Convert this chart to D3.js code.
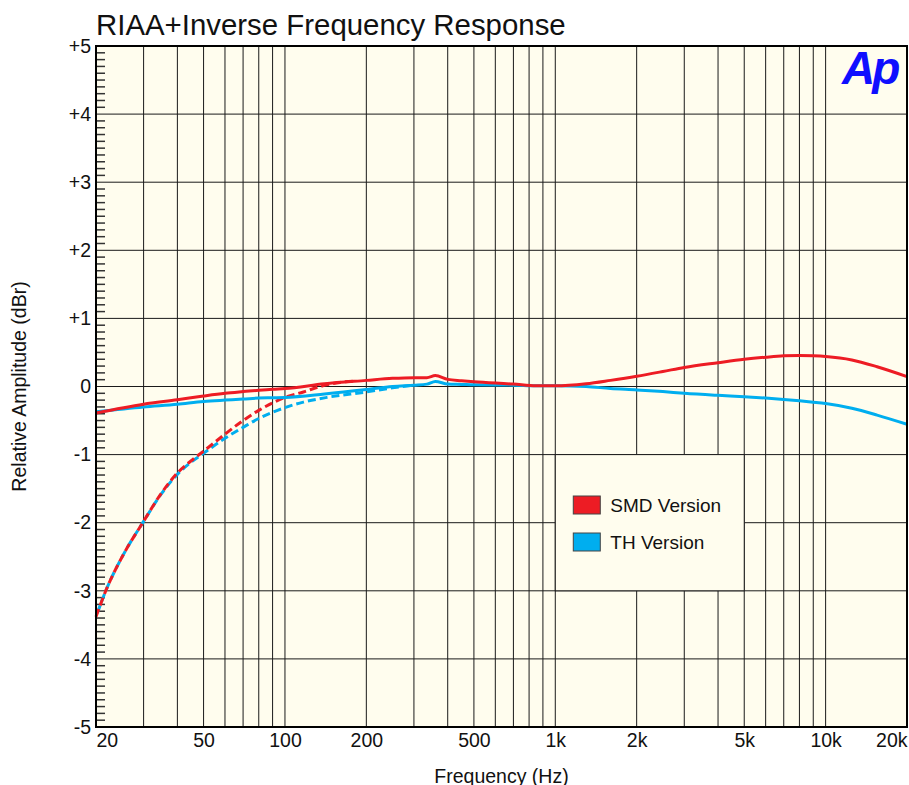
<!DOCTYPE html>
<html>
<head>
<meta charset="utf-8">
<script src="https://cdn.jsdelivr.net/npm/d3@7"></script>
<style>
  body { margin: 0; background: #fff; }
  text { font-family: "Liberation Sans", Arial, sans-serif; fill: #111; }
</style>
</head>
<body>
<div id="container"></div>
<script>
// frequencies (Hz) for the two full response curves
const freqs = [20, 30, 40, 50, 60, 70, 80, 90, 100, 140, 200, 250, 300, 335, 360, 400, 450, 500, 700, 850,
  1000, 1300, 1600, 2000, 2500, 3000, 4000, 5000, 6000, 7000, 8000, 9000, 10000, 12500, 15500, 20000];
const smdSolid = [-0.39, -0.26, -0.195, -0.14, -0.10, -0.075, -0.055, -0.04, -0.03, 0.04, 0.09, 0.12, 0.13, 0.13, 0.16, 0.105, 0.085, 0.07, 0.035, 0.01,
  0.01, 0.04, 0.09, 0.15, 0.22, 0.28, 0.35, 0.40, 0.43, 0.45, 0.455, 0.45, 0.44, 0.39, 0.29, 0.145];
const thSolid = [-0.37, -0.30, -0.26, -0.22, -0.20, -0.185, -0.17, -0.165, -0.16, -0.11, -0.045, 0.0, 0.02, 0.035, 0.075, 0.035, 0.03, 0.025, 0.02, 0.01,
  0.01, 0.0, -0.03, -0.05, -0.075, -0.10, -0.13, -0.15, -0.17, -0.19, -0.21, -0.23, -0.25, -0.32, -0.42, -0.555];

// low frequency roll-off curves (dashed)
const smdDashFreqs = [20, 22, 25, 30, 35, 40, 45, 50, 60, 70, 80, 90, 100, 117, 135, 160, 180];
const smdDashed = [-3.38, -2.95, -2.5, -1.98, -1.56, -1.27, -1.09, -0.95, -0.70, -0.50, -0.35, -0.24, -0.16, -0.08, 0.0, 0.06, 0.08];
const thDashFreqs = [20, 22, 25, 30, 35, 40, 45, 50, 60, 70, 80, 90, 100, 117, 143, 200, 250, 300];
const thDashed = [-3.38, -2.95, -2.5, -1.98, -1.57, -1.29, -1.11, -0.98, -0.76, -0.60, -0.47, -0.38, -0.31, -0.23, -0.16, -0.08, -0.02, 0.02];

const xTickValues = [20, 50, 100, 200, 500, 1000, 2000, 5000, 10000, 20000];
const xTickLabels = ["20", "50", "100", "200", "500", "1k", "2k", "5k", "10k", "20k"];
const yTickValues = [-5, -4, -3, -2, -1, 0, 1, 2, 3, 4, 5];
const yTickLabels = ["-5", "-4", "-3", "-2", "-1", "0", "+1", "+2", "+3", "+4", "+5"];

const seriesNames = ["SMD Version", "TH Version"];
const seriesColors = ["#ed1c24", "#00aeef"];

let w = 909;
let h = 785;
let plotLeft = 96, plotRight = 907, plotTop = 46, plotBottom = 727;

let viz = d3.select("#container")
  .append("svg")
    .attr("width", w)
    .attr("height", h);

let xScale = d3.scaleLog().domain([20, 20000]).range([plotLeft, plotRight]);
let yScale = d3.scaleLinear().domain([-5, 5]).range([plotBottom, plotTop]);

// plot background
viz.append("rect")
  .attr("x", plotLeft).attr("y", plotTop)
  .attr("width", plotRight - plotLeft).attr("height", plotBottom - plotTop)
  .attr("fill", "#fffdee");

// grid lines
let gridFreqs = [];
[10, 100, 1000, 10000].forEach(function(dec){
  for (let k = 1; k <= 9; k++) {
    let f = dec * k;
    if (f > 20 && f < 20000) gridFreqs.push(f);
  }
});
let grid = viz.append("g").attr("class", "grid");
grid.selectAll(".vline").data(gridFreqs).enter().append("line")
  .attr("x1", d => xScale(d)).attr("x2", d => xScale(d))
  .attr("y1", plotTop).attr("y2", plotBottom)
  .attr("stroke", "#1a1a1a").attr("stroke-width", 1);
grid.selectAll(".hline").data(yTickValues).enter().append("line")
  .attr("x1", plotLeft).attr("x2", plotRight)
  .attr("y1", d => yScale(d)).attr("y2", d => yScale(d))
  .attr("stroke", "#1a1a1a").attr("stroke-width", 1);

// minor ticks on the left edge, every 0.1 dB
let minor = d3.range(-50, 51).filter(d => d % 10 != 0).map(d => d / 10);
grid.selectAll(".minor").data(minor).enter().append("line")
  .attr("x1", plotLeft).attr("x2", plotLeft + 9)
  .attr("y1", d => yScale(d)).attr("y2", d => yScale(d))
  .attr("stroke", "#333").attr("stroke-width", 1.5);

// legend box sits on the grid between 1k-5k and -1..-3 dB
let lx0 = xScale(1000), lx1 = xScale(5000), ly0 = yScale(-1), ly1 = yScale(-3);
viz.append("rect")
  .attr("x", lx0).attr("y", ly0)
  .attr("width", lx1 - lx0).attr("height", ly1 - ly0)
  .attr("fill", "#fffdee").attr("stroke", "#1a1a1a").attr("stroke-width", 1);

// curves
let line = d3.line()
  .x(d => xScale(d[0]))
  .y(d => yScale(d[1]))
  .curve(d3.curveMonotoneX);

let curves = viz.append("g");
curves.append("path")
  .datum(d3.zip(thDashFreqs, thDashed))
  .attr("d", line).attr("fill", "none")
  .attr("stroke", seriesColors[1]).attr("stroke-width", 3)
  .attr("stroke-dasharray", "8,4").attr("stroke-dashoffset", 8);
curves.append("path")
  .datum(d3.zip(smdDashFreqs, smdDashed))
  .attr("d", line).attr("fill", "none")
  .attr("stroke", seriesColors[0]).attr("stroke-width", 3)
  .attr("stroke-dasharray", "8,4");
curves.append("path")
  .datum(d3.zip(freqs, thSolid))
  .attr("d", line).attr("fill", "none")
  .attr("stroke", seriesColors[1]).attr("stroke-width", 3);
curves.append("path")
  .datum(d3.zip(freqs, smdSolid))
  .attr("d", line).attr("fill", "none")
  .attr("stroke", seriesColors[0]).attr("stroke-width", 3);

// frame
viz.append("rect")
  .attr("x", plotLeft).attr("y", plotTop)
  .attr("width", plotRight - plotLeft).attr("height", plotBottom - plotTop)
  .attr("fill", "none").attr("stroke", "#000").attr("stroke-width", 2);

// x axis labels
let xAxis = d3.axisBottom(xScale)
  .tickValues(xTickValues)
  .tickFormat((d, i) => xTickLabels[i])
  .tickSize(0).tickPadding(0);
let xAxisGroup = viz.append("g").attr("class", "xAxisGroup")
  .attr("transform", "translate(0," + plotBottom + ")")
  .call(xAxis);
xAxisGroup.select(".domain").remove();
xAxisGroup.selectAll("text")
  .attr("y", 20).attr("dy", 0)
  .style("font-size", "19.5px").style("font-family", "Liberation Sans, Arial, sans-serif").attr("fill", "#111");
xAxisGroup.selectAll("text").filter((d, i) => i == 0).attr("text-anchor", "start");
xAxisGroup.selectAll("text").filter((d, i) => i == xTickValues.length - 1).attr("text-anchor", "end");

// y axis labels
let yAxis = d3.axisLeft(yScale)
  .tickValues(yTickValues)
  .tickFormat((d, i) => yTickLabels[i])
  .tickSize(0).tickPadding(5);
let yAxisGroup = viz.append("g").attr("class", "yAxisGroup")
  .attr("transform", "translate(" + plotLeft + ",0)")
  .call(yAxis);
yAxisGroup.select(".domain").remove();
yAxisGroup.selectAll("text")
  .style("font-size", "19.5px").style("font-family", "Liberation Sans, Arial, sans-serif").attr("fill", "#111");

// legend entries
let legend = viz.append("g").attr("class", "legend");
seriesNames.forEach(function(name, i){
  let yy = 496 + i * 37;
  legend.append("rect")
    .attr("x", lx0 + 18).attr("y", yy)
    .attr("width", 27).attr("height", 18)
    .attr("fill", seriesColors[i]).attr("stroke", "#444").attr("stroke-width", 1);
  legend.append("text")
    .attr("x", lx0 + 55).attr("y", yy + 16)
    .style("font-size", "19px")
    .text(name);
});

// titles
viz.append("text")
  .attr("x", plotLeft).attr("y", 35)
  .style("font-size", "29.4px")
  .text("RIAA+Inverse Frequency Response");
viz.append("text")
  .attr("x", (plotLeft + plotRight) / 2).attr("y", 783)
  .attr("text-anchor", "middle")
  .style("font-size", "19.5px")
  .text("Frequency (Hz)");
viz.append("text")
  .attr("transform", "translate(26," + yScale(0) + ") rotate(-90)")
  .attr("text-anchor", "middle")
  .style("font-size", "19.5px")
  .text("Relative Amplitude (dBr)");

// Ap logo
viz.append("text")
  .attr("x", 842).attr("y", 84)
  .style("font-size", "46px").style("font-weight", "bold").style("font-style", "italic")
  .style("letter-spacing", "-3px")
  .style("fill", "#0f0fff")
  .text("Ap");
</script>
</body>
</html>
